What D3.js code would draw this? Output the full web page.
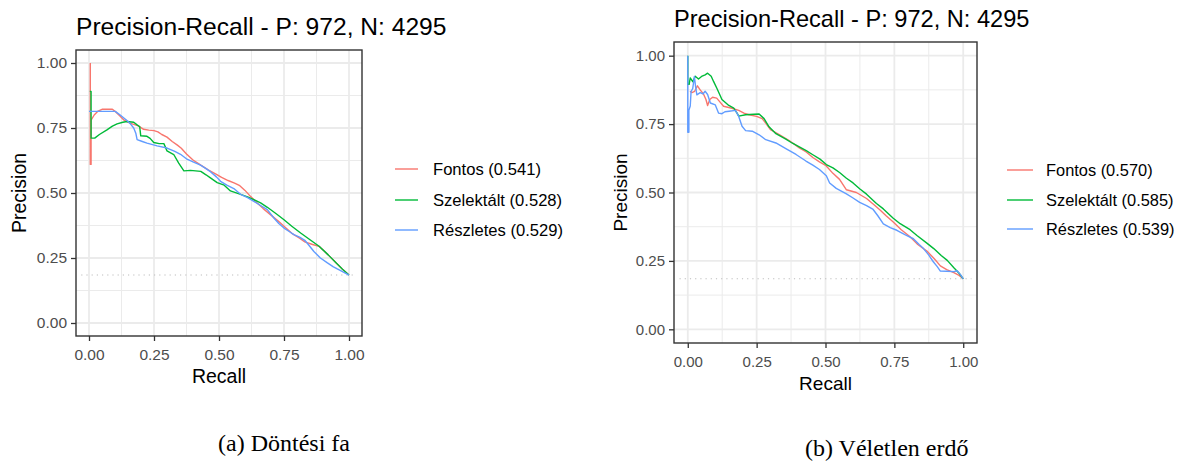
<!DOCTYPE html>
<html>
<head>
<meta charset="utf-8">
<script src="https://cdn.jsdelivr.net/npm/d3@7"></script>
<style>
  html, body { margin: 0; padding: 0; background: #ffffff; }
  svg { display: block; }
</style>
</head>
<body>
<svg id="chart" width="1181" height="463"></svg>
<script>
// ---- data -------------------------------------------------------------
const seriesNames  = ["Fontos", "Szelektált", "Részletes"];
const seriesColors = ["#F8766D", "#00BA38", "#619CFF"];
const positives = 972;
const negatives = 4295;
const axisTicks = [0, 0.25, 0.5, 0.75, 1];
const minorTicks = [0.125, 0.375, 0.625, 0.875];

// area under each precision-recall curve
const treeAuc   = [0.541, 0.528, 0.529];
const forestAuc = [0.570, 0.585, 0.539];

// decision tree: [recall, precision]
const treeFontos = [
  [0.005,1.0],[0.005,0.61],[0.008,0.61],[0.008,0.78],[0.02,0.80],[0.035,0.815],[0.05,0.822],
  [0.09,0.822],[0.105,0.81],[0.12,0.795],[0.135,0.78],[0.16,0.768],[0.19,0.758],[0.21,0.745],
  [0.23,0.742],[0.25,0.74],[0.265,0.735],[0.28,0.725],[0.30,0.715],[0.32,0.698],[0.34,0.684],
  [0.355,0.672],[0.375,0.65],[0.40,0.627],[0.43,0.607],[0.46,0.588],[0.49,0.572],[0.51,0.56],
  [0.535,0.548],[0.56,0.538],[0.58,0.528],[0.60,0.51],[0.62,0.488],[0.647,0.462],[0.67,0.44],
  [0.70,0.415],[0.73,0.39],[0.75,0.372],[0.78,0.345],[0.81,0.326],[0.83,0.312],[0.86,0.302],
  [0.885,0.295],[0.92,0.262],[0.95,0.232],[0.975,0.207],[1.0,0.1845]
];
const treeSzelektalt = [
  [0.003,0.891],[0.008,0.891],[0.008,0.711],[0.022,0.711],[0.04,0.725],[0.069,0.743],[0.09,0.757],
  [0.108,0.766],[0.13,0.772],[0.146,0.775],[0.172,0.772],[0.185,0.762],[0.195,0.755],[0.199,0.72],
  [0.223,0.718],[0.235,0.71],[0.249,0.694],[0.27,0.69],[0.288,0.69],[0.30,0.662],[0.326,0.648],
  [0.345,0.615],[0.365,0.585],[0.39,0.587],[0.43,0.583],[0.45,0.57],[0.467,0.558],[0.493,0.54],
  [0.52,0.53],[0.544,0.508],[0.583,0.495],[0.61,0.485],[0.634,0.474],[0.66,0.462],[0.686,0.445],
  [0.72,0.42],[0.75,0.397],[0.78,0.372],[0.814,0.346],[0.85,0.32],[0.885,0.295],[0.92,0.262],
  [0.95,0.232],[0.975,0.207],[1.0,0.1845]
];
const treeReszletes = [
  [0.0,0.814],[0.101,0.814],[0.12,0.80],[0.146,0.779],[0.16,0.765],[0.172,0.75],[0.18,0.73],
  [0.185,0.705],[0.205,0.698],[0.223,0.692],[0.262,0.681],[0.30,0.673],[0.33,0.66],[0.352,0.649],
  [0.377,0.63],[0.40,0.62],[0.429,0.607],[0.45,0.594],[0.467,0.582],[0.49,0.562],[0.506,0.545],
  [0.53,0.53],[0.557,0.517],[0.583,0.495],[0.61,0.482],[0.634,0.468],[0.66,0.452],[0.686,0.436],
  [0.711,0.404],[0.73,0.383],[0.75,0.365],[0.77,0.352],[0.788,0.34],[0.81,0.33],[0.83,0.318],
  [0.845,0.3],[0.865,0.275],[0.89,0.25],[0.917,0.231],[0.94,0.216],[0.955,0.208],[0.975,0.198],
  [1.0,0.1845]
];

// random forest: [recall, precision]
const forestFontos = [
  [0.008,0.87],[0.015,0.865],[0.025,0.87],[0.035,0.89],[0.045,0.875],[0.057,0.86],[0.066,0.84],
  [0.072,0.818],[0.08,0.84],[0.09,0.848],[0.105,0.845],[0.115,0.833],[0.13,0.815],[0.16,0.808],
  [0.185,0.80],[0.204,0.79],[0.222,0.784],[0.25,0.778],[0.27,0.77],[0.283,0.754],[0.30,0.73],
  [0.332,0.712],[0.368,0.69],[0.405,0.663],[0.43,0.648],[0.454,0.628],[0.478,0.612],[0.502,0.598],
  [0.527,0.57],[0.551,0.548],[0.576,0.51],[0.612,0.5],[0.649,0.478],[0.675,0.456],[0.698,0.436],
  [0.72,0.415],[0.746,0.392],[0.775,0.364],[0.807,0.338],[0.835,0.31],[0.868,0.286],[0.895,0.258],
  [0.917,0.232],[0.94,0.218],[0.966,0.207],[0.985,0.197],[1.0,0.1845]
];
const forestSzelektalt = [
  [0.0,1.0],[0.0,0.895],[0.005,0.895],[0.009,0.919],[0.018,0.905],[0.027,0.925],[0.039,0.915],
  [0.05,0.924],[0.063,0.93],[0.072,0.936],[0.085,0.925],[0.094,0.905],[0.106,0.88],[0.124,0.84],
  [0.149,0.818],[0.167,0.808],[0.179,0.79],[0.185,0.779],[0.21,0.784],[0.24,0.786],[0.259,0.787],
  [0.277,0.77],[0.295,0.74],[0.32,0.715],[0.356,0.695],[0.38,0.68],[0.405,0.667],[0.43,0.653],
  [0.454,0.638],[0.48,0.622],[0.503,0.602],[0.527,0.59],[0.551,0.573],[0.576,0.552],[0.6,0.535],
  [0.625,0.513],[0.649,0.494],[0.685,0.46],[0.71,0.44],[0.746,0.406],[0.771,0.386],[0.807,0.364],
  [0.832,0.343],[0.868,0.315],[0.893,0.295],[0.92,0.27],[0.942,0.252],[0.966,0.225],[0.985,0.205],
  [1.0,0.1845]
];
const forestReszletes = [
  [0.0,1.0],[0.0,0.72],[0.004,0.72],[0.004,0.80],[0.009,0.816],[0.012,0.869],[0.018,0.88],
  [0.024,0.924],[0.028,0.89],[0.033,0.857],[0.045,0.865],[0.055,0.86],[0.063,0.87],[0.072,0.858],
  [0.082,0.827],[0.1,0.82],[0.112,0.79],[0.124,0.788],[0.135,0.795],[0.15,0.797],[0.173,0.80],
  [0.185,0.778],[0.197,0.742],[0.21,0.726],[0.234,0.724],[0.259,0.711],[0.283,0.693],[0.32,0.681],
  [0.356,0.66],[0.393,0.639],[0.429,0.615],[0.454,0.6],[0.478,0.584],[0.503,0.561],[0.515,0.535],
  [0.539,0.515],[0.576,0.495],[0.6,0.48],[0.624,0.464],[0.649,0.452],[0.673,0.438],[0.69,0.415],
  [0.71,0.385],[0.735,0.372],[0.759,0.362],[0.79,0.345],[0.819,0.331],[0.84,0.31],[0.856,0.295],
  [0.875,0.271],[0.892,0.246],[0.905,0.23],[0.917,0.213],[0.94,0.212],[0.966,0.211],[0.978,0.214],
  [0.99,0.2],[1.0,0.1845]
];

const titleText = "Precision-Recall - P: " + positives + ", N: " + negatives;
const baseline = positives / (positives + negatives);

// ---- drawing ----------------------------------------------------------
const svg = d3.select("#chart");
svg.append("rect").attr("width", 1181).attr("height", 463).attr("fill", "#ffffff");

function drawPanel(o) {
  const g = svg.append("g");
  const x = d3.scaleLinear().domain([-0.05, 1.05]).range([o.left, o.right]);
  const y = d3.scaleLinear().domain([-0.05, 1.05]).range([o.bottom, o.top]);

  // grid
  const grid = g.append("g");
  minorTicks.forEach(v => {
    grid.append("line").attr("x1", x(v)).attr("x2", x(v)).attr("y1", o.top).attr("y2", o.bottom)
      .attr("stroke", "#EBEBEB").attr("stroke-width", 1);
    grid.append("line").attr("y1", y(v)).attr("y2", y(v)).attr("x1", o.left).attr("x2", o.right)
      .attr("stroke", "#EBEBEB").attr("stroke-width", 1);
  });
  axisTicks.forEach(v => {
    grid.append("line").attr("x1", x(v)).attr("x2", x(v)).attr("y1", o.top).attr("y2", o.bottom)
      .attr("stroke", "#EBEBEB").attr("stroke-width", 1.8);
    grid.append("line").attr("y1", y(v)).attr("y2", y(v)).attr("x1", o.left).attr("x2", o.right)
      .attr("stroke", "#EBEBEB").attr("stroke-width", 1.8);
  });

  // no-skill baseline
  g.append("line")
    .attr("x1", x(-0.03)).attr("x2", x(1.03))
    .attr("y1", y(baseline)).attr("y2", y(baseline))
    .attr("stroke", "#BDBDBD").attr("stroke-width", 1.1)
    .attr("stroke-dasharray", "1.2,4");

  // curves
  const line = d3.line().x(d => x(d[0])).y(d => y(d[1]));
  o.series.forEach((s, i) => {
    g.append("path").datum(s).attr("d", line)
      .attr("fill", "none").attr("stroke", seriesColors[i])
      .attr("stroke-width", 1.4).attr("stroke-linejoin", "round");
  });

  // panel border
  g.append("rect").attr("x", o.left).attr("y", o.top)
    .attr("width", o.right - o.left).attr("height", o.bottom - o.top)
    .attr("fill", "none").attr("stroke", "#333333").attr("stroke-width", 1.4);

  // axes
  const fmt = d3.format(".2f");
  const ax = g.append("g").attr("transform", `translate(0,${o.bottom})`)
    .call(d3.axisBottom(x).tickValues(axisTicks).tickFormat(fmt).tickSize(5).tickPadding(4));
  const ay = g.append("g").attr("transform", `translate(${o.left},0)`)
    .call(d3.axisLeft(y).tickValues(axisTicks).tickFormat(fmt).tickSize(5).tickPadding(4));
  [ax, ay].forEach(a => {
    a.select(".domain").remove();
    a.selectAll(".tick line").attr("stroke", "#333333").attr("stroke-width", 1.3);
    a.selectAll(".tick text").attr("fill", "#4D4D4D")
      .style("font-family", "'Liberation Sans', Arial, sans-serif")
      .style("font-size", o.tickSize + "px");
  });
  ax.selectAll(".tick text").attr("y", o.xTickBase - o.bottom).attr("dy", 0);

  const font = "'Liberation Sans', Arial, sans-serif";
  // titles
  g.append("text").attr("x", o.left).attr("y", o.titleBase).text(titleText)
    .style("font-family", font).style("font-size", o.titleSize + "px").attr("fill", "#000");
  g.append("text").attr("x", (x(0) + x(1)) / 2).attr("y", o.xTitleBase).attr("text-anchor", "middle")
    .text("Recall").style("font-family", font).style("font-size", o.axisTitleSize + "px").attr("fill", "#000");
  g.append("text")
    .attr("transform", `translate(${o.yTitleBase},${(o.top + o.bottom) / 2}) rotate(-90)`)
    .attr("text-anchor", "middle").text("Precision")
    .style("font-family", font).style("font-size", o.axisTitleSize + "px").attr("fill", "#000");

  // legend
  const lg = g.append("g");
  o.auc.forEach((v, i) => {
    const cy = o.legendY[i];
    lg.append("line").attr("x1", o.keyX0).attr("x2", o.keyX1).attr("y1", cy).attr("y2", cy)
      .attr("stroke", seriesColors[i]).attr("stroke-width", 1.4);
    lg.append("text").attr("x", o.legendTextX).attr("y", cy + o.legendSize * 0.36)
      .text(`${seriesNames[i]} (${d3.format(".3f")(v)})`)
      .style("font-family", font).style("font-size", o.legendSize + "px").attr("fill", "#000");
  });

  // caption
  svg.append("text").attr("x", o.captionX).attr("y", o.captionBase).text(o.caption)
    .style("font-family", "'Liberation Serif', 'Times New Roman', serif")
    .style("font-size", "24px").attr("fill", "#000");
}

drawPanel({
  left: 76, right: 362, top: 50, bottom: 336,
  series: [treeFontos, treeSzelektalt, treeReszletes], auc: treeAuc,
  titleBase: 35, titleSize: 24.6, tickSize: 15.5, axisTitleSize: 19.5,
  xTickBase: 360, xTitleBase: 383, yTitleBase: 26,
  legendY: [169, 200, 230], keyX0: 395, keyX1: 418, legendTextX: 433, legendSize: 16.6,
  caption: "(a) Döntési fa", captionX: 218, captionBase: 451
});

drawPanel({
  left: 674, right: 977, top: 42, bottom: 343,
  series: [forestFontos, forestSzelektalt, forestReszletes], auc: forestAuc,
  titleBase: 27, titleSize: 23.6, tickSize: 15, axisTitleSize: 19,
  xTickBase: 367, xTitleBase: 390, yTitleBase: 626.5,
  legendY: [170, 200, 229], keyX0: 1007, keyX1: 1033, legendTextX: 1046, legendSize: 16.4,
  caption: "(b) Véletlen erdő", captionX: 805, captionBase: 456
});
</script>
</body>
</html>
